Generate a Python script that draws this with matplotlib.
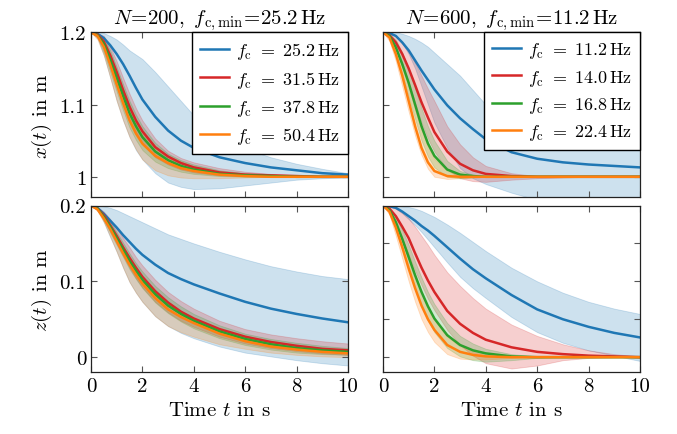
import matplotlib
matplotlib.use("Agg")
import matplotlib.pyplot as plt

plt.rcParams['font.family'] = 'serif'
plt.rcParams['font.serif'] = ['cmr10']
plt.rcParams['mathtext.fontset'] = 'cm'
plt.rcParams['axes.unicode_minus'] = False

# time samples (s)
t = [0, 0.25, 0.5, 0.75, 1, 1.25, 1.5, 1.75, 2, 2.5, 3, 3.5, 4, 5, 6, 7, 8, 9, 10]

colors = ['#1f77b4', '#d62728', '#2ca02c', '#ff7f0e']

# N = 200
fc_200 = ['25.2', '31.5', '37.8', '50.4']
x200_mean = [
    [1.2, 1.198, 1.192, 1.182, 1.170, 1.156, 1.140, 1.123, 1.107, 1.083, 1.064, 1.050, 1.040, 1.027, 1.019, 1.013, 1.009, 1.005, 1.003],
    [1.2, 1.197, 1.187, 1.168, 1.145, 1.120, 1.097, 1.078, 1.063, 1.041, 1.028, 1.019, 1.013, 1.006, 1.003, 1.002, 1.001, 1.0, 1.0],
    [1.2, 1.196, 1.184, 1.162, 1.137, 1.112, 1.088, 1.070, 1.055, 1.035, 1.023, 1.015, 1.010, 1.004, 1.002, 1.001, 1.0, 1.0, 1.0],
    [1.2, 1.195, 1.180, 1.155, 1.128, 1.102, 1.078, 1.060, 1.046, 1.029, 1.019, 1.012, 1.008, 1.003, 1.001, 1.0, 1.0, 1.0, 1.0],
]
x200_lo = [
    [1.2, 1.192, 1.168, 1.137, 1.105, 1.078, 1.055, 1.037, 1.024, 1.005, 0.992, 0.986, 0.983, 0.984, 0.988, 0.992, 0.996, 0.998, 0.999],
    [1.2, 1.195, 1.178, 1.154, 1.128, 1.102, 1.078, 1.060, 1.045, 1.027, 1.017, 1.010, 1.006, 1.002, 1.001, 1.0, 1.0, 1.0, 1.0],
    [1.2, 1.193, 1.172, 1.145, 1.118, 1.092, 1.068, 1.051, 1.037, 1.021, 1.012, 1.007, 1.004, 1.001, 1.0, 1.0, 1.0, 1.0, 1.0],
    [1.2, 1.190, 1.168, 1.137, 1.105, 1.078, 1.055, 1.038, 1.024, 1.009, 1.002, 0.999, 0.998, 0.998, 0.999, 1.0, 1.0, 1.0, 1.0],
]
x200_hi = [
    [1.2, 1.2, 1.199, 1.195, 1.190, 1.183, 1.175, 1.169, 1.163, 1.145, 1.125, 1.105, 1.085, 1.058, 1.039, 1.027, 1.018, 1.011, 1.005],
    [1.2, 1.199, 1.195, 1.180, 1.160, 1.137, 1.115, 1.095, 1.078, 1.053, 1.036, 1.026, 1.020, 1.012, 1.007, 1.004, 1.002, 1.001, 1.0],
    [1.2, 1.198, 1.193, 1.175, 1.152, 1.128, 1.105, 1.086, 1.070, 1.047, 1.032, 1.023, 1.017, 1.009, 1.005, 1.003, 1.001, 1.0, 1.0],
    [1.2, 1.198, 1.190, 1.170, 1.145, 1.120, 1.097, 1.078, 1.063, 1.042, 1.029, 1.021, 1.015, 1.008, 1.004, 1.002, 1.001, 1.0, 1.0],
]
z200_mean = [
    [0.2, 0.197, 0.189, 0.180, 0.171, 0.161, 0.152, 0.143, 0.135, 0.122, 0.111, 0.103, 0.096, 0.084, 0.073, 0.064, 0.057, 0.051, 0.046],
    [0.2, 0.196, 0.187, 0.174, 0.160, 0.145, 0.131, 0.118, 0.106, 0.087, 0.072, 0.060, 0.051, 0.037, 0.027, 0.020, 0.015, 0.011, 0.009],
    [0.2, 0.196, 0.185, 0.172, 0.157, 0.142, 0.127, 0.114, 0.102, 0.083, 0.068, 0.057, 0.048, 0.034, 0.024, 0.017, 0.012, 0.009, 0.007],
    [0.2, 0.195, 0.183, 0.169, 0.153, 0.137, 0.122, 0.109, 0.097, 0.078, 0.063, 0.053, 0.045, 0.031, 0.021, 0.014, 0.010, 0.007, 0.005],
]
z200_lo = [
    [0.2, 0.194, 0.178, 0.158, 0.139, 0.118, 0.099, 0.085, 0.073, 0.054, 0.041, 0.032, 0.025, 0.014, 0.006, 0.001, -0.004, -0.008, -0.011],
    [0.2, 0.195, 0.182, 0.166, 0.150, 0.134, 0.118, 0.104, 0.092, 0.073, 0.059, 0.048, 0.040, 0.027, 0.018, 0.012, 0.008, 0.005, 0.003],
    [0.2, 0.195, 0.180, 0.164, 0.148, 0.132, 0.116, 0.103, 0.091, 0.072, 0.058, 0.047, 0.038, 0.025, 0.016, 0.010, 0.006, 0.004, 0.003],
    [0.2, 0.193, 0.178, 0.159, 0.139, 0.118, 0.099, 0.085, 0.073, 0.054, 0.041, 0.033, 0.027, 0.017, 0.011, 0.006, 0.003, 0.001, 0.0],
]
z200_hi = [
    [0.2, 0.2, 0.199, 0.197, 0.194, 0.190, 0.186, 0.182, 0.178, 0.170, 0.162, 0.156, 0.150, 0.139, 0.129, 0.120, 0.113, 0.107, 0.103],
    [0.2, 0.198, 0.192, 0.182, 0.170, 0.157, 0.145, 0.132, 0.121, 0.102, 0.086, 0.074, 0.064, 0.048, 0.037, 0.030, 0.025, 0.021, 0.018],
    [0.2, 0.197, 0.190, 0.179, 0.165, 0.151, 0.137, 0.124, 0.113, 0.094, 0.079, 0.067, 0.057, 0.042, 0.031, 0.024, 0.019, 0.015, 0.012],
    [0.2, 0.197, 0.188, 0.175, 0.160, 0.145, 0.130, 0.117, 0.105, 0.086, 0.071, 0.060, 0.050, 0.036, 0.026, 0.019, 0.014, 0.011, 0.009],
]

# N = 600
fc_600 = ['11.2', '14.0', '16.8', '22.4']
x600_mean = [
    [1.2, 1.199, 1.195, 1.186, 1.175, 1.161, 1.147, 1.134, 1.121, 1.099, 1.081, 1.066, 1.052, 1.034, 1.025, 1.020, 1.017, 1.015, 1.013],
    [1.2, 1.196, 1.186, 1.170, 1.150, 1.127, 1.103, 1.082, 1.062, 1.035, 1.018, 1.009, 1.004, 1.001, 1.0, 1.0, 1.0, 1.0, 1.0],
    [1.2, 1.195, 1.179, 1.156, 1.130, 1.100, 1.070, 1.046, 1.029, 1.010, 1.003, 1.001, 1.0, 1.0, 1.0, 1.0, 1.0, 1.0, 1.0],
    [1.2, 1.193, 1.170, 1.140, 1.105, 1.070, 1.040, 1.020, 1.008, 1.001, 1.0, 1.0, 1.0, 1.0, 1.0, 1.0, 1.0, 1.0, 1.0],
]
x600_lo = [
    [1.2, 1.199, 1.195, 1.185, 1.170, 1.150, 1.125, 1.100, 1.075, 1.040, 1.012, 0.998, 0.990, 0.978, 0.968, 0.963, 0.962, 0.963, 0.965],
    [1.2, 1.193, 1.180, 1.158, 1.130, 1.102, 1.075, 1.053, 1.035, 1.010, 0.998, 0.994, 0.993, 0.996, 0.998, 0.999, 1.0, 1.0, 1.0],
    [1.2, 1.192, 1.170, 1.142, 1.110, 1.080, 1.050, 1.028, 1.013, 1.0, 0.998, 0.999, 1.0, 1.0, 1.0, 1.0, 1.0, 1.0, 1.0],
    [1.2, 1.188, 1.160, 1.125, 1.090, 1.057, 1.030, 1.011, 1.0, 0.997, 0.998, 0.999, 1.0, 1.0, 1.0, 1.0, 1.0, 1.0, 1.0],
]
x600_hi = [
    [1.2, 1.2, 1.2, 1.198, 1.195, 1.191, 1.186, 1.180, 1.172, 1.156, 1.140, 1.120, 1.100, 1.075, 1.060, 1.050, 1.045, 1.042, 1.040],
    [1.2, 1.199, 1.195, 1.187, 1.175, 1.158, 1.140, 1.122, 1.105, 1.070, 1.045, 1.027, 1.015, 1.005, 1.001, 1.0, 1.0, 1.0, 1.0],
    [1.2, 1.198, 1.190, 1.172, 1.150, 1.123, 1.095, 1.070, 1.050, 1.022, 1.008, 1.003, 1.001, 1.0, 1.0, 1.0, 1.0, 1.0, 1.0],
    [1.2, 1.196, 1.180, 1.155, 1.125, 1.093, 1.065, 1.042, 1.025, 1.008, 1.002, 1.0, 1.0, 1.0, 1.0, 1.0, 1.0, 1.0, 1.0],
]
z600_mean = [
    [0.2, 0.199, 0.197, 0.192, 0.186, 0.180, 0.173, 0.167, 0.160, 0.145, 0.130, 0.116, 0.104, 0.082, 0.063, 0.050, 0.040, 0.032, 0.026],
    [0.2, 0.196, 0.186, 0.172, 0.157, 0.137, 0.118, 0.101, 0.086, 0.061, 0.044, 0.032, 0.023, 0.013, 0.007, 0.004, 0.002, 0.001, 0.0],
    [0.2, 0.194, 0.178, 0.156, 0.132, 0.108, 0.086, 0.067, 0.051, 0.029, 0.016, 0.009, 0.005, 0.001, 0.0, 0.0, 0.0, 0.0, 0.0],
    [0.2, 0.192, 0.171, 0.145, 0.117, 0.091, 0.068, 0.050, 0.036, 0.016, 0.007, 0.003, 0.001, 0.0, 0.0, 0.0, 0.0, 0.0, 0.0],
]
z600_lo = [
    [0.2, 0.199, 0.196, 0.190, 0.182, 0.174, 0.165, 0.155, 0.145, 0.125, 0.106, 0.091, 0.078, 0.053, 0.033, 0.019, 0.009, 0.002, -0.005],
    [0.2, 0.192, 0.176, 0.156, 0.135, 0.114, 0.095, 0.077, 0.062, 0.036, 0.016, 0.002, -0.008, -0.015, -0.011, -0.004, -0.001, 0.0, 0.0],
    [0.2, 0.191, 0.170, 0.143, 0.115, 0.090, 0.067, 0.048, 0.033, 0.012, 0.001, -0.004, -0.006, -0.004, -0.001, 0.0, 0.0, 0.0, 0.0],
    [0.2, 0.188, 0.160, 0.130, 0.100, 0.073, 0.050, 0.033, 0.020, 0.004, -0.002, -0.003, -0.003, -0.001, 0.0, 0.0, 0.0, 0.0, 0.0],
]
z600_hi = [
    [0.2, 0.2, 0.2, 0.199, 0.198, 0.196, 0.193, 0.189, 0.185, 0.175, 0.164, 0.152, 0.140, 0.118, 0.100, 0.085, 0.073, 0.064, 0.057],
    [0.2, 0.199, 0.196, 0.190, 0.183, 0.172, 0.160, 0.148, 0.135, 0.112, 0.094, 0.078, 0.064, 0.043, 0.028, 0.017, 0.009, 0.004, 0.001],
    [0.2, 0.197, 0.186, 0.168, 0.148, 0.126, 0.105, 0.086, 0.070, 0.045, 0.028, 0.018, 0.011, 0.004, 0.001, 0.0, 0.0, 0.0, 0.0],
    [0.2, 0.195, 0.180, 0.158, 0.135, 0.109, 0.085, 0.066, 0.050, 0.027, 0.014, 0.007, 0.003, 0.0, 0.0, 0.0, 0.0, 0.0, 0.0],
]

x_ticks = [0, 2, 4, 6, 8, 10]

fig = plt.figure(figsize=(6.77, 4.35), dpi=100)
ax_tl = fig.add_axes([0.1344, 0.5448, 0.3796, 0.3786])
ax_tr = fig.add_axes([0.5657, 0.5448, 0.3796, 0.3786])
ax_bl = fig.add_axes([0.1344, 0.1418, 0.3796, 0.3834])
ax_br = fig.add_axes([0.5657, 0.1418, 0.3796, 0.3834])

panels = [
    (ax_tl, x200_mean, x200_lo, x200_hi, fc_200),
    (ax_tr, x600_mean, x600_lo, x600_hi, fc_600),
    (ax_bl, z200_mean, z200_lo, z200_hi, None),
    (ax_br, z600_mean, z600_lo, z600_hi, None),
]

for ax, mean, lo, hi, fcs in panels:
    for i in range(4):
        ax.fill_between(t, lo[i], hi[i], color=colors[i], alpha=0.22,
                        linewidth=0.6, edgecolor=colors[i])
    for i in range(4):
        lab = r'$f_\mathrm{c}\ =\ %s\,\mathrm{Hz}$' % fcs[i] if fcs else None
        ax.plot(t, mean[i], color=colors[i], linewidth=1.8, label=lab)
    ax.set_xlim(0, 10)
    ax.set_xticks(x_ticks)
    ax.tick_params(direction='in', top=True, right=True, length=4,
                   labelsize=15, color='#555555')
    for sp in ax.spines.values():
        sp.set_color('#222222')
        sp.set_linewidth(0.9)
    if fcs:
        ax.legend(loc='upper right', borderaxespad=0, fancybox=False,
                  edgecolor='black', framealpha=1, fontsize=13,
                  handlelength=1.6, handletextpad=0.4, labelspacing=0.4,
                  borderpad=0.45)

for ax in (ax_tl, ax_tr):
    ax.set_ylim(0.972, 1.2)
    ax.set_yticks([1.0, 1.1, 1.2])
    ax.set_xticklabels([])
for ax in (ax_bl, ax_br):
    ax.set_ylim(-0.02, 0.2)
    ax.set_xticklabels([str(v) for v in x_ticks])
    ax.set_xlabel(r'Time $t$ in s', fontsize=15)
ax_bl.set_yticks([0, 0.1, 0.2])
ax_br.set_yticks([0, 0.05, 0.1, 0.15])
ax_tl.set_yticklabels(['1', '1.1', '1.2'])
ax_bl.set_yticklabels(['0', '0.1', '0.2'])
ax_tr.set_yticklabels([])
ax_br.set_yticklabels([])

ax_tl.set_ylabel(r'$x(t)$ in m', fontsize=15)
ax_bl.set_ylabel(r'$z(t)$ in m', fontsize=15)
ax_tl.set_title(r'$N\!=\!200,\ f_{\mathrm{c,min}}\!=\!25.2\,\mathrm{Hz}$', fontsize=15, pad=3)
ax_tr.set_title(r'$N\!=\!600,\ f_{\mathrm{c,min}}\!=\!11.2\,\mathrm{Hz}$', fontsize=15, pad=3)

fig.savefig('out.png', dpi=100)
